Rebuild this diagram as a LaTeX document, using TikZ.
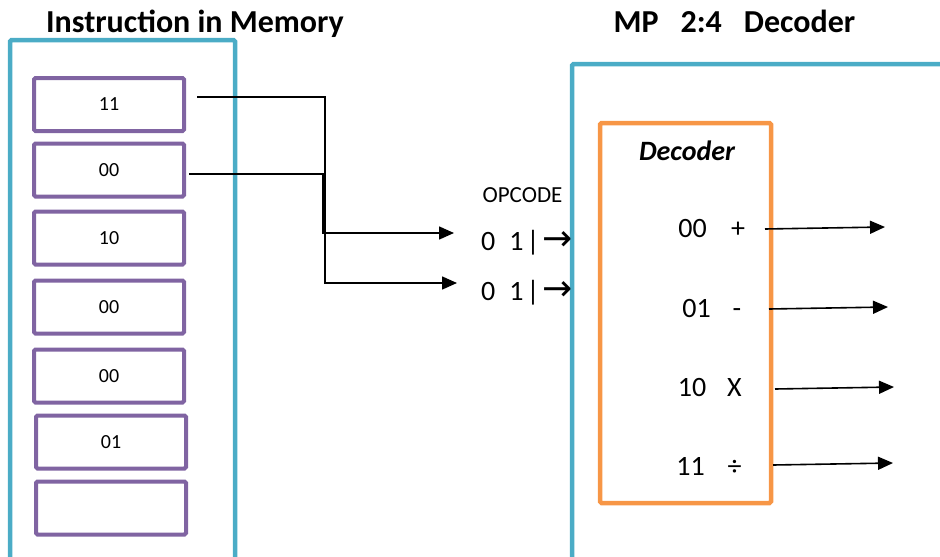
\documentclass[tikz,border=0pt]{standalone}
\usepackage{fontspec}
\setmainfont{Carlito}
\newfontfamily\arrowfont{DejaVu Sans}
\usetikzlibrary{arrows.meta}

\definecolor{frameblue}{HTML}{4BACC6}
\definecolor{cellpurple}{HTML}{8064A2}
\definecolor{decorange}{HTML}{F79646}

\newcommand{\opcarrow}{{\arrowfont\fontsize{36}{40}\selectfont →}}

\begin{document}
\begin{tikzpicture}[x=1pt,y=-1pt,
  frame/.style={draw=frameblue,line width=4.5pt,rounded corners=1.5pt},
  cell/.style={draw=cellpurple,line width=4pt,rounded corners=1.5pt,
    minimum width=150pt,minimum height=53pt,inner sep=0pt,
    font=\fontsize{20}{24}\selectfont},
  wire/.style={line width=1.6pt},
  arr/.style={wire,-{Triangle[length=15pt,width=13pt]}},
  title/.style={inner sep=0pt,anchor=base,font=\fontsize{32}{36}\selectfont\bfseries},
  big/.style={inner sep=0pt,anchor=base,font=\fontsize{28}{32}\selectfont},
  small/.style={inner sep=0pt,anchor=base,font=\fontsize{23}{27}\selectfont}]

\useasboundingbox (0,0) rectangle (940,557);
\clip (0,0) rectangle (940,557);

% titles
\node[title] (t1) at (195,32) {Instruction in Memory};
\node[title] (t2) at (734.5,32) {MP\hspace{22pt}2:4\hspace{22pt}Decoder};

% memory frame and its cells
\draw[frame] (10,40) rectangle (235,600);
\node[cell] (m1) at (109,104.5) {11};
\node[cell] (m2) at (109,170) {00};
\node[cell] (m3) at (109,238) {10};
\node[cell] (m4) at (109,307) {00};
\node[cell] (m5) at (109,376) {00};
\node[cell] (m6) at (111,442) {01};
\node[cell] (m7) at (111,508) {};

% decoder frame
\draw[frame] (572,64) rectangle (1000,620);
\draw[draw=decorange,line width=4.5pt,rounded corners=1.5pt] (600,123) rectangle (771,503);
\node[big,font=\fontsize{28}{32}\selectfont\bfseries\itshape] (dec) at (687,160) {Decoder};

% opcode inputs
\node[small] (opc) at (522.5,202) {OPCODE};
\node[big,anchor=base west] (in1) at (481,250) {0\hspace{14pt}1\hspace{3pt}|\hspace{3pt}\opcarrow};
\node[big,anchor=base west] (in2) at (481,300) {0\hspace{14pt}1\hspace{3pt}|\hspace{3pt}\opcarrow};

% wires from the memory cells to the opcode inputs
\coordinate (s1) at (197,97);
\coordinate (s2) at (189,174);
\coordinate (j1) at (325,97);
\coordinate (j2) at (323,174);
\coordinate (e1) at (454,233);
\coordinate (e2) at (457,283);
\draw[arr] (s1) -- (j1) |- (e2);
\draw[arr] (s2) -- (j2) |- (e1);

% decoder table
\node[big] (c1) at (692.5,237) {00};
\node[big] (p1) at (738,237) {+};
\node[big] (c2) at (696.5,317) {01};
\node[big] (p2) at (737,317) {-};
\node[big] (c3) at (692,396) {10};
\node[big] (p3) at (734.5,396) {X};
\node[big] (c4) at (690.5,475) {11};
\node[big] (p4) at (734.5,475) {÷};

% decoder outputs
\coordinate (o1) at (765,229);
\coordinate (q1) at (885,227);
\coordinate (o2) at (769,309);
\coordinate (q2) at (888,307);
\coordinate (o3) at (775,389);
\coordinate (q3) at (894,387);
\coordinate (o4) at (773,465);
\coordinate (q4) at (893,463);
\draw[arr] (o1) -- (q1);
\draw[arr] (o2) -- (q2);
\draw[arr] (o3) -- (q3);
\draw[arr] (o4) -- (q4);
\end{tikzpicture}
\end{document}
